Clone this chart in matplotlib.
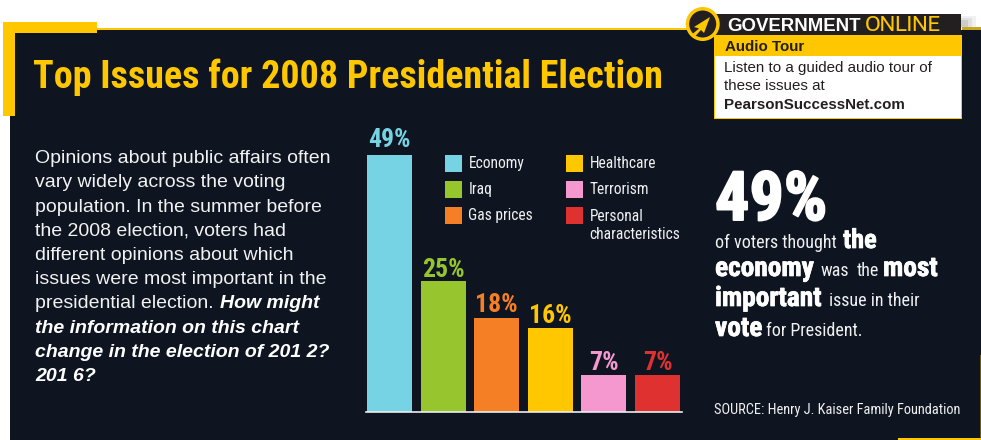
import numpy as np
import matplotlib
matplotlib.use('Agg')
import matplotlib.pyplot as plt
import matplotlib.patheffects as pe
from matplotlib.patches import Rectangle, Circle, Polygon

names = ['Economy', 'Iraq', 'Gas prices', 'Healthcare', 'Terrorism', 'Personal\ncharacteristics']
shares = [49, 25, 18, 16, 7, 7]
colors = ['#76D3E3', '#97C52D', '#F57F25', '#FEC700', '#F598CF', '#DF3230']

NAVY = '#0E1521'
GOLD = '#FEC700'
INK = '#231F20'
NARROW = ['Roboto Condensed', 'Liberation Sans']
SANS = ['Liberation Sans']
WIDE = ['Encode Sans Semi Expanded', 'Liberation Sans']

fig = plt.figure(figsize=(9.81, 4.40), dpi=100, facecolor='white')

# page furniture is laid out in pixels, y going down
bg = fig.add_axes([0, 0, 1, 1])
bg.set_xlim(0, 981)
bg.set_ylim(440, 0)
bg.axis('off')


def box(x0, y0, x1, y1, color, z=1):
    bg.add_patch(Rectangle((x0, y0), x1 - x0, y1 - y0, fc=color, ec='none', zorder=z))


def txt(x, y, s, size, color='white', family=NARROW, weight='normal', style='normal', stroke=0):
    t = bg.text(x, y, s, fontsize=size, color=color, family=family, weight=weight,
                style=style, va='baseline', ha='left', zorder=6)
    if stroke:
        t.set_path_effects([pe.withStroke(linewidth=stroke, foreground=color)])
    return t


box(10, 30, 981, 440, NAVY)
box(97, 28, 715, 30, GOLD)
box(962, 27, 981, 30, '#C9A520')
box(3, 22, 97, 33, GOLD, 2)
box(3, 22, 15, 116, GOLD, 2)
box(980, 355, 981, 440, '#6B5A10', 2)
box(898, 438, 981, 440, GOLD, 2)

# soft shadow behind the call-out header
for right, top, shade in [(976, 16, '#F0F0F0'), (972, 18, '#E0E0E0'), (968, 20, '#CCCCCC')]:
    box(961, top, right, 27, shade, 1)

txt(33, 88, 'Top Issues for 2008 Presidential Election', 27.4, GOLD, weight='bold')

# intro paragraph
body = ['Opinions about public affairs often', 'vary widely across the voting',
        'population. In the summer before', 'the 2008 election, voters had',
        'different opinions about which', 'issues were most important in the']
line_y = [163, 187, 212, 236, 260, 284]
for s, y in zip(body, line_y):
    txt(35, y, s, 14, '#F2F2F2', SANS)
txt(35, 308, 'presidential election.', 14, '#F2F2F2', SANS)
txt(220, 308, 'How might', 14, 'white', SANS, 'bold', 'italic')
txt(35, 333, 'the information on this chart', 14, 'white', SANS, 'bold', 'italic')
txt(35, 357, 'change in the election of 201 2?', 14, 'white', SANS, 'bold', 'italic')
txt(35, 381, '201 6?', 14, 'white', SANS, 'bold', 'italic')

# audio tour call-out
box(713.5, 35, 962, 119.5, GOLD, 3)
box(715, 56, 960.5, 118, 'white', 4)
box(716, 14, 961, 35, INK, 4)
txt(727, 31, 'GOVERNMENT', 13.4, 'white', SANS, 'bold')
txt(865, 31, 'ONLINE', 14.2, GOLD, WIDE, 'medium')
txt(725, 51, 'Audio Tour', 10.9, INK, SANS, 'bold')
txt(724, 72, 'Listen to a guided audio tour of', 10.9, INK, SANS)
txt(724, 90, 'these issues at', 10.9, INK, SANS)
txt(724, 109, 'PearsonSuccessNet.com', 10.9, INK, SANS, 'bold')
bg.add_patch(Circle((702.7, 24), 17, fc=GOLD, ec='none', zorder=7))
bg.add_patch(Circle((702.7, 24), 13.5, fc=INK, ec='none', zorder=8))
bg.add_patch(Polygon([(710, 17), (694, 27), (699, 28.5), (692.5, 34), (695, 36.5), (701, 30), (704, 33)],
                     closed=True, fc=GOLD, ec='none', zorder=9))

# bar chart; the axes spans 0-49 between the baseline and the top of the tallest bar
ax = fig.add_axes([366 / 981, (440 - 412) / 440, 316 / 981, 257 / 440])
ax.patch.set_alpha(0)
x = np.arange(len(shares))
ax.bar(x, shares, width=0.84, color=colors)
ax.set_xlim(-0.438, 5.457)
ax.set_ylim(0, 49)
ax.set_xticks([])
ax.set_yticks([])
for side in ['top', 'left', 'right']:
    ax.spines[side].set_visible(False)
ax.spines['bottom'].set_color('#EDEDED')
ax.spines['bottom'].set_linewidth(1.2)
label_pad = [6, 3, 4, 4, 4, 4]
for i, v in enumerate(shares):
    ax.annotate('%d%%' % v, (i, v), xytext=(0, label_pad[i]), textcoords='offset points', ha='center',
                va='baseline', fontsize=18.5, color=colors[i], family=NARROW, weight='bold',
                annotation_clip=False)

# legend
swatch_x = [445, 566]
swatch_y = [155, 181, 207]
for i, name in enumerate(names):
    col, row = i // 3, i % 3
    box(swatch_x[col], swatch_y[row], swatch_x[col] + 17, swatch_y[row] + 17, colors[i], 3)
    bx = swatch_x[col] + 23.5
    if '\n' in name:
        first, second = name.split('\n')
        txt(bx, 221, first, 11.2, '#F0F0F0')
        txt(bx, 239, second, 11.2, '#F0F0F0')
    else:
        txt(bx, swatch_y[row] + 13, name, 11.2, '#F0F0F0')

# right-hand statement
txt(715, 220, '49%', 49, 'white', weight='bold', stroke=1.4)
txt(715, 248, 'of voters thought', 13, '#F0F0F0')
txt(843, 248, 'the', 19, 'white', weight='bold', stroke=0.5)
txt(715, 276, 'economy', 19.7, 'white', weight='bold', stroke=0.5)
txt(821, 276, 'was', 13, '#F0F0F0')
txt(857, 276, 'the', 13, '#F0F0F0')
txt(883, 276, 'most', 19.7, 'white', weight='bold', stroke=0.5)
txt(715, 306, 'important', 19.7, 'white', weight='bold', stroke=0.5)
txt(829, 306, 'issue in their', 13, '#F0F0F0')
txt(715, 336, 'vote', 19.7, 'white', weight='bold', stroke=0.5)
txt(766, 336, 'for President.', 13, '#F0F0F0')
txt(714, 414, 'SOURCE: Henry J. Kaiser Family Foundation', 10.4, '#F0F0F0')

fig.savefig('out.png', dpi=100, facecolor='white')
